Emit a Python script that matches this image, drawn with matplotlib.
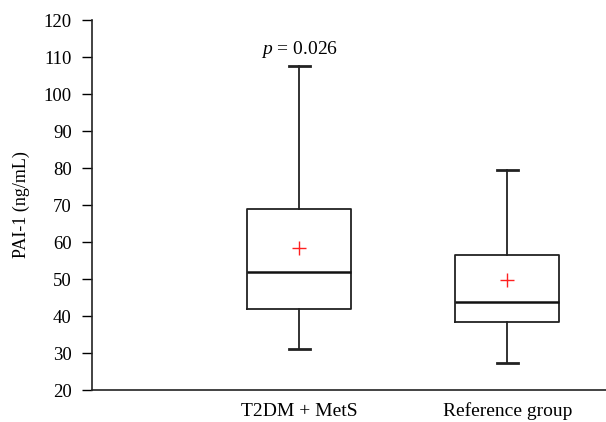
import matplotlib
matplotlib.use("Agg")
import matplotlib.pyplot as plt

categories = ["T2DM + MetS", "Reference group"]
whislo = [31.1, 27.2]
q1 = [41.8, 38.4]
medians = [52.0, 43.9]
q3 = [68.9, 56.6]
whishi = [107.6, 79.5]
means = [58.3, 49.7]
yticks = [20, 30, 40, 50, 60, 70, 80, 90, 100, 110, 120]
p_text_value = 111.9

plt.rcParams['font.family'] = ['Liberation Serif', 'DejaVu Serif']
plt.rcParams['mathtext.fontset'] = 'custom'
plt.rcParams['mathtext.it'] = 'Liberation Serif:italic'
plt.rcParams['mathtext.rm'] = 'Liberation Serif'

fig = plt.figure(figsize=(6.06, 4.22), dpi=100)
ax = fig.add_axes([0.151, 0.0758, 0.849, 0.8768])

stats = []
for i in range(len(categories)):
    stats.append(dict(label=categories[i], whislo=whislo[i], q1=q1[i], med=medians[i],
                      q3=q3[i], whishi=whishi[i], mean=means[i], fliers=[]))

positions = [1, 2]
ax.bxp(stats, positions=positions, widths=0.5, showmeans=True, showfliers=False,
       boxprops=dict(color='#222222', linewidth=1.3),
       medianprops=dict(color='#111111', linewidth=1.8),
       whiskerprops=dict(color='#222222', linewidth=1.3),
       capprops=dict(color='#222222', linewidth=2.0),
       capwidths=0.1,
       meanprops=dict(marker='+', markeredgecolor='#ff2020', markersize=10, markeredgewidth=1.0))

ax.set_xlim(0, 2.474)
ax.set_ylim(20, 120)
ax.set_yticks(yticks)
ax.set_xticks(positions)
ax.set_xticklabels(categories, fontsize=14)
ax.tick_params(axis='x', length=0, pad=9)
ax.tick_params(axis='y', direction='out', length=7.2, width=1, labelsize=13.5, pad=7)
for s in ['top', 'right']:
    ax.spines[s].set_visible(False)
for s in ['left', 'bottom']:
    ax.spines[s].set_linewidth(1.2)
    ax.spines[s].set_color('#222222')
ax.set_ylabel("PAI-1 (ng/mL)", fontsize=13, labelpad=10)

ax.text(positions[0], p_text_value, r"$p$ = 0.026", ha='center', va='center', fontsize=14)

fig.savefig("out.png", dpi=100)
